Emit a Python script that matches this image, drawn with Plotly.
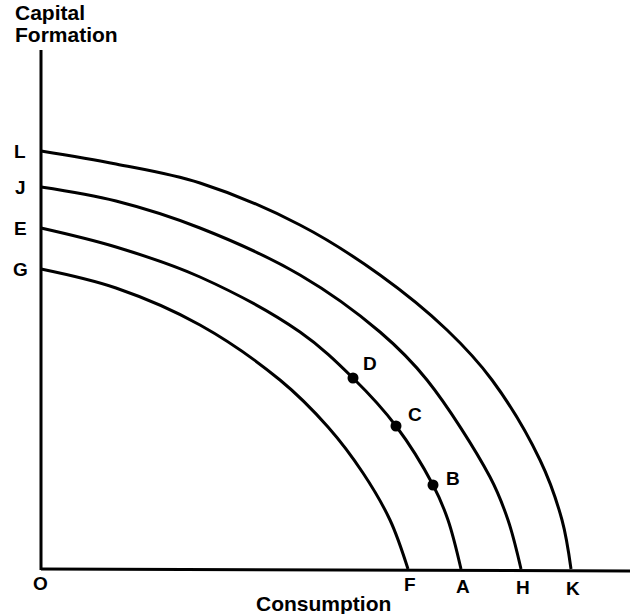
import plotly.graph_objects as go

# Production possibility curves (consumption, capital formation)
curve_L_x = [0, 75, 159, 259, 339, 406, 451, 499, 521, 530]
curve_L_y = [418, 405, 386, 344, 294, 239, 189, 109, 49, 0]

curve_J_x = [0, 75, 159, 259, 339, 386, 449, 467, 480]
curve_J_y = [382, 368, 341, 294, 237, 189, 92, 49, 0]

curve_E_x = [0, 75, 159, 259, 312, 355, 392, 407, 420]
curve_E_y = [341, 322, 292, 237, 191, 143, 84, 49, 0]

curve_G_x = [0, 75, 159, 239, 287, 322, 349, 367]
curve_G_y = [300, 281, 244, 189, 142, 96, 49, 0]

# Points on curve E
point_names = ["D", "C", "B"]
point_x = [312, 355, 392]
point_y = [191, 143, 84]

# Axis intercept labels
y_int_labels = ["L", "J", "E", "G"]
y_int_values = [418, 382, 341, 300]
x_int_labels = ["F", "A", "H", "K"]
x_int_values = [367, 420, 480, 530]

FONT = "Liberation Sans, Arial, Helvetica, sans-serif"
LW = 3

fig = go.Figure()

for cx, cy in [(curve_L_x, curve_L_y), (curve_J_x, curve_J_y),
               (curve_E_x, curve_E_y), (curve_G_x, curve_G_y)]:
    fig.add_trace(go.Scatter(x=cx, y=cy, mode="lines",
                             line=dict(color="black", width=LW, shape="spline", smoothing=1.0),
                             hoverinfo="skip", showlegend=False))

fig.add_trace(go.Scatter(x=point_x, y=point_y, mode="markers",
                         marker=dict(color="black", size=11),
                         hoverinfo="skip", showlegend=False))

# axes lines
fig.add_shape(type="line", x0=0, y0=-1, x1=0, y1=519, line=dict(color="black", width=LW))
fig.add_shape(type="line", x0=0, y0=0, x1=589, y1=-2, line=dict(color="black", width=LW))

def label(text, x, y, size=19, xanchor="center"):
    fig.add_annotation(x=x, y=y, text="<b>%s</b>" % text, showarrow=False,
                       xanchor=xanchor, yanchor="middle",
                       font=dict(family=FONT, size=size, color="black"))

for t, v in zip(y_int_labels, y_int_values):
    label(t, -21, v)
for t, u, dv in zip(x_int_labels, x_int_values, [-15, -17, -18, -19]):
    label(t, u + 2, dv)
label("O", -1, -14)
for t, u, v, du, dv in zip(point_names, point_x, point_y, [17, 19, 20], [15, 12, 7]):
    label(t, u + du, v + dv)

label("Capital", -28, 557, size=21, xanchor="left")
label("Formation", -28, 535, size=21, xanchor="left")
label("Consumption", 282, -34, size=21)

fig.update_layout(
    width=634, height=614,
    margin=dict(l=0, r=0, t=0, b=0),
    paper_bgcolor="white", plot_bgcolor="white",
    xaxis=dict(range=[-41, 593], visible=False, showgrid=False, zeroline=False),
    yaxis=dict(range=[-45, 569], visible=False, showgrid=False, zeroline=False),
    showlegend=False,
)

fig.write_html("out.html", config={"displayModeBar": False},
               post_script="document.body.style.margin='0px';document.body.style.overflow='hidden';")
